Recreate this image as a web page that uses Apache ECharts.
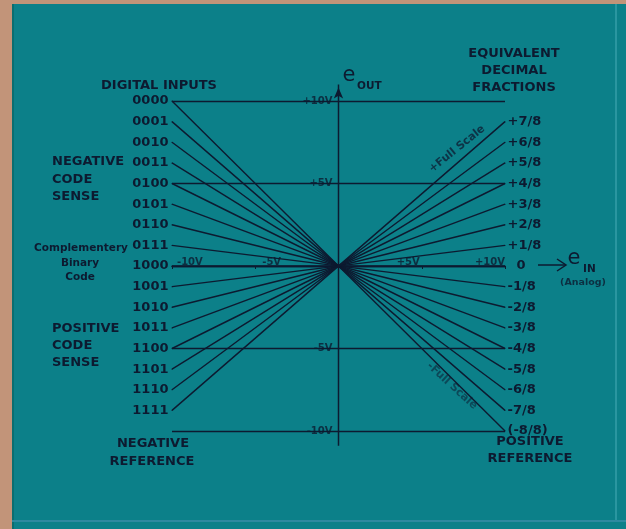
<!DOCTYPE html>
<html>
<head>
<meta charset="utf-8">
<script src="https://cdn.jsdelivr.net/npm/echarts@6/dist/echarts.min.js"></script>
<style>
  html, body { margin: 0; padding: 0; background: #0c8089; }
  #chart { width: 626px; height: 529px; }
</style>
</head>
<body>
<div id="chart"></div>
<script>
// Digital input codes (complementary binary), top to bottom
const codes = ['0000', '0001', '0010', '0011', '0100', '0101', '0110', '0111',
               '1000', '1001', '1010', '1011', '1100', '1101', '1110', '1111'];
// Gain of each code in eighths of full scale (e_out = gain * e_in)
const gainEighths = [-8, -7, -6, -5, -4, -3, -2, -1, 0, 1, 2, 3, 4, 5, 6, 7];
// Equivalent decimal fraction shown at the right end of each line
const fractionLabels = ['(-8/8)', '-7/8', '-6/8', '-5/8', '-4/8', '-3/8', '-2/8', '-1/8',
                        '0', '+1/8', '+2/8', '+3/8', '+4/8', '+5/8', '+6/8', '+7/8'];
// Reference voltage (full scale) and the tick levels on both axes
const fullScale = 10;
const voltTicks = [-10, -5, 5, 10];
const voltTickLabels = ['-10V', '-5V', '+5V', '+10V'];
// Extent of the drawn e_out axis (bottom end, arrow tip)
const eOutAxisSpan = [-10.9, 11];

const INK = '#0d1a30';
const FONT = '"DejaVu Sans", "Liberation Sans", sans-serif';

const chart = echarts.init(document.getElementById('chart'), null, { renderer: 'canvas' });

const labelFont = { color: INK, fontFamily: FONT, fontWeight: 'bold', fontSize: 13 };

// One transfer line per code, from -full scale to +full scale on e_in
const codeSeries = codes.map((code, i) => {
  const g = gainEighths[i] / 8;
  return {
    type: 'line',
    name: code,
    silent: true,
    symbol: 'circle',
    symbolSize: 1,
    showSymbol: true,
    clip: false,
    animation: false,
    itemStyle: { color: INK },
    lineStyle: { color: INK, width: 1.4 },
    data: [
      { value: [-fullScale, -fullScale * g],
        label: Object.assign({ show: true, position: 'left', distance: 3, formatter: code }, labelFont) },
      { value: [fullScale, fullScale * g],
        label: Object.assign({ show: true, position: 'right',
                 distance: fractionLabels[i] === '0' ? 11 : 2,
                 formatter: fractionLabels[i] }, labelFont) }
    ]
  };
});

// Vertical e_out axis with an arrow head at its top
const eOutAxisSeries = {
  type: 'line',
  silent: true,
  clip: false,
  animation: false,
  showSymbol: true,
  itemStyle: { color: INK },
  lineStyle: { color: INK, width: 1.5 },
  data: [
    { value: [0, eOutAxisSpan[0]], symbol: 'none' },
    { value: [0, eOutAxisSpan[1]], symbol: 'arrow', symbolSize: [7, 11], symbolOffset: [0, 3] }
  ]
};

const tickFont = { color: INK, fontFamily: FONT, fontWeight: 'bold', fontSize: 10 };

// Tick labels on the e_in axis, each placed toward the origin
const xTickSeries = {
  type: 'scatter',
  silent: true,
  animation: false,
  symbolSize: 0,
  data: voltTicks.map((v, i) => ({
    value: [v, 0],
    label: Object.assign({
      show: true,
      position: 'top',
      distance: 0,
      align: v < 0 ? 'left' : 'right',
      offset: [v === -10 ? 5 : (v === -5 ? 7 : (v === 5 ? -2 : 0)), 1],
      formatter: voltTickLabels[i]
    }, tickFont)
  }))
};

// Tick labels on the e_out axis, just left of the vertical axis
const yTickSeries = {
  type: 'scatter',
  silent: true,
  animation: false,
  symbolSize: 0,
  data: voltTicks.map((v, i) => ({
    value: [0, v],
    label: Object.assign({
      show: true,
      position: 'left',
      distance: 6,
      formatter: voltTickLabels[i]
    }, tickFont)
  }))
};

function txt(x, y, text, size, extra) {
  return Object.assign({
    type: 'text', x: x, y: y, silent: true,
    style: Object.assign({
      text: text,
      font: 'bold ' + size + 'px ' + FONT,
      fill: INK,
      align: 'center', verticalAlign: 'middle',
      textAlign: 'center', textVerticalAlign: 'middle'
    }, (extra && extra.style) || {})
  }, (extra && extra.el) || {});
}
function txtL(x, y, text, size) {
  return txt(x, y, text, size, { style: { align: 'left', textAlign: 'left' } });
}

const option = {
  backgroundColor: '#0c8089',
  animation: false,
  grid: { left: 172, right: 121, top: 101, bottom: 98 },
  xAxis: {
    type: 'value', min: -fullScale, max: fullScale, interval: 5,
    axisLine: { show: true, onZero: true, lineStyle: { color: INK, width: 1.4 } },
    axisTick: { show: true, length: 3, inside: false, lineStyle: { color: INK } },
    axisLabel: { show: false },
    splitLine: { show: false }
  },
  yAxis: {
    type: 'value', min: -fullScale, max: fullScale, interval: 5,
    axisLine: { show: false, onZero: false },
    axisTick: { show: false },
    axisLabel: { show: false },
    splitLine: { show: true, lineStyle: { color: INK, width: 1.3 } }
  },
  series: codeSeries.concat([eOutAxisSeries, xTickSeries, yTickSeries]),
  graphic: [
    // scanned page edges
    { type: 'rect', silent: true, shape: { x: 0, y: 0, width: 12, height: 529 }, style: { fill: '#c29479' } },
    { type: 'rect', silent: true, shape: { x: 0, y: 0, width: 626, height: 4 }, style: { fill: '#c29479' } },
    { type: 'rect', silent: true, shape: { x: 12, y: 4, width: 2, height: 525 }, style: { fill: '#0a6e70' } },
    { type: 'rect', silent: true, shape: { x: 12, y: 520, width: 614, height: 2 }, style: { fill: '#2d8aa0' } },
    { type: 'rect', silent: true, shape: { x: 615, y: 4, width: 2, height: 516 }, style: { fill: '#2a96a0' } },

    // headings
    txt(159, 86, 'DIGITAL INPUTS', 13),
    txt(514, 54, 'EQUIVALENT', 13),
    txt(514, 71, 'DECIMAL', 13),
    txt(514, 88, 'FRACTIONS', 13),

    txtL(52, 162, 'NEGATIVE', 13),
    txtL(52, 180, 'CODE', 13),
    txtL(52, 197, 'SENSE', 13),

    txt(81, 248, 'Complementery', 10.5),
    txt(80, 263, 'Binary', 10.5),
    txt(80, 277, 'Code', 10.5),

    txtL(52, 329, 'POSITIVE', 13),
    txtL(52, 346, 'CODE', 13),
    txtL(52, 363, 'SENSE', 13),

    txt(153, 444, 'NEGATIVE', 13),
    txt(152, 462, 'REFERENCE', 13),
    txt(530, 442, 'POSITIVE', 13),
    txt(530, 459, 'REFERENCE', 13),

    // e_out axis title
    txt(349, 76, 'e', 21, { style: { font: '21px ' + FONT } }),
    txtL(357, 86, 'OUT', 10.5),

    // e_in arrow and title
    { type: 'line', silent: true, shape: { x1: 538, y1: 265, x2: 566, y2: 265 }, style: { stroke: INK, lineWidth: 1.5 } },
    { type: 'polyline', silent: true, shape: { points: [[557, 259], [566, 265], [557, 271]] }, style: { stroke: INK, lineWidth: 1.5, fill: null } },
    txt(574, 259, 'e', 21, { style: { font: '21px ' + FONT } }),
    txtL(583, 269, 'IN', 10.5),
    txt(583, 283, '(Analog)', 9.5, { style: { fill: 'rgba(13,26,48,0.8)' } }),

    // full-scale annotations along the extreme lines
    txt(457, 149, '+Full Scale', 11, { el: { rotation: 0.68 }, style: { fill: 'rgba(13,26,48,0.75)' } }),
    txt(452, 386, '-Full Scale', 11, { el: { rotation: -0.74 }, style: { fill: 'rgba(13,26,48,0.55)' } })
  ]
};

chart.setOption(option);
</script>
</body>
</html>
